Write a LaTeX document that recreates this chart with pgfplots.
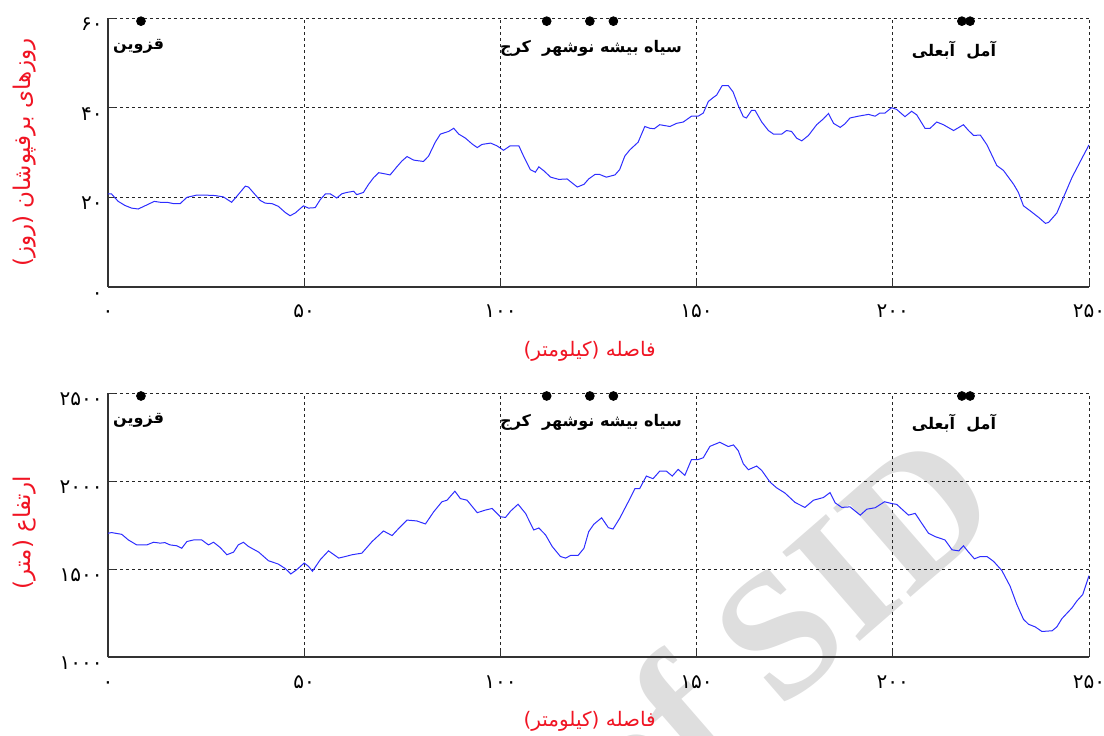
\documentclass[border=0pt]{standalone}
\usepackage{fontspec}
\setmainfont{DejaVu Sans}
\newfontfamily\fa[Script=Arabic]{DejaVu Sans}
\newfontfamily\wm{Liberation Serif}
\TeXXeTstate=1
\usepackage{pgfplots}
\usepackage{pgfplotstable}
\pgfplotsset{compat=1.18}
\definecolor{curve}{RGB}{45,45,255}
\definecolor{lab}{RGB}{240,20,35}

\pgfplotstableread{
x y
0 20.75
0.9 20.75
2.6 19.1
4.3 18.2
6.0 17.6
7.7 17.4
9.4 18.1
11.8 19.1
13.3 18.9
15.0 18.9
16.7 18.6
18.4 18.6
20.1 20.0
22.6 20.5
24.7 20.5
27.3 20.4
29.4 20.1
31.5 18.9
32.8 20.2
35.0 22.5
35.8 22.3
37.1 21.0
38.8 19.3
40.1 18.7
41.8 18.6
43.4 18.0
45.2 16.6
46.4 15.9
47.7 16.5
49.8 18.1
51.1 17.6
52.8 17.7
54.1 19.5
55.4 20.75
56.6 20.8
58.3 19.85
59.6 20.8
60.9 21.1
62.6 21.35
63.4 20.6
65.1 21.1
66.4 22.9
67.7 24.4
69.0 25.5
70.2 25.3
71.9 25.0
73.6 26.8
74.9 28.1
76.2 29.1
77.9 28.3
80.4 28.0
81.7 29.2
83.4 32.3
84.7 34.1
86.8 34.7
88.1 35.4
89.4 34.1
91.1 33.2
92.8 31.9
94.1 31.1
95.3 31.8
97.5 32.1
99.1 31.5
100.8 30.5
102.5 31.5
104.7 31.5
105.9 29.2
107.6 26.2
108.9 25.6
109.8 26.8
111.1 25.9
112.8 24.5
114.9 24.0
117.0 24.1
118.3 23.2
119.6 22.3
121.3 22.9
122.5 24.1
124.1 25.1
125.3 25.1
127.0 24.5
129.2 25.0
130.4 26.2
131.7 29.2
133.0 30.6
135.1 32.3
136.8 35.8
138.1 35.4
139.2 35.3
140.6 36.2
143.2 35.8
144.9 36.5
146.6 36.8
148.7 38.1
150.4 38.1
151.7 38.8
153.0 41.4
154.3 42.3
155.1 42.8
156.5 44.9
158.1 44.9
159.3 43.5
160.6 40.5
161.9 38.0
162.7 37.7
164.0 39.4
164.9 39.4
166.6 36.8
168.3 34.9
169.6 34.1
171.7 34.1
172.9 34.9
174.2 34.7
175.5 33.2
176.8 32.6
178.5 33.8
180.6 36.2
182.3 37.5
183.6 38.7
184.9 36.5
186.6 35.6
187.8 36.4
189.1 37.7
191.2 38.1
193.8 38.5
195.5 38.1
196.7 38.8
198.0 38.8
199.7 40.0
201.0 39.6
203.1 38.0
204.8 39.2
206.1 38.4
208.2 35.4
209.5 35.4
211.2 36.8
212.9 36.2
215.5 34.9
218.0 36.2
219.3 34.9
220.6 33.8
222.3 33.9
224.0 31.7
226.5 27.1
228.2 26.0
230.8 22.9
232.0 21.1
233.3 18.1
235.0 17.0
237.2 15.5
238.9 14.2
239.7 14.4
241.8 16.5
243.5 20.0
245.7 24.5
248.2 28.7
250.0 31.7
}\snowtable

\pgfplotstableread{
x y
0 1703
0.9 1707
3.5 1697
5.2 1665
7.3 1637
9.9 1637
11.6 1652
13.3 1647
14.5 1650
15.8 1637
17.5 1632
18.8 1618
20.1 1656
21.8 1665
23.9 1665
25.6 1637
26.9 1652
28.6 1622
30.3 1581
32.0 1596
33.2 1637
34.5 1652
35.8 1628
38.4 1596
40.9 1547
43.4 1528
45.2 1502
46.6 1472
48.1 1496
50.0 1534
51.1 1515
52.1 1487
54.1 1553
56.2 1603
58.8 1562
60.5 1571
62.2 1581
64.7 1590
67.3 1656
70.2 1716
72.4 1690
74.1 1731
76.2 1778
78.7 1773
80.9 1756
83.0 1825
85.1 1882
86.4 1891
88.4 1942
89.8 1900
91.5 1891
94.1 1820
96.2 1835
97.9 1844
100.0 1797
101.3 1793
102.6 1829
104.5 1868
106.4 1816
108.5 1722
109.8 1733
111.5 1694
113.2 1628
115.3 1571
116.6 1562
117.9 1577
119.8 1577
121.3 1618
122.5 1712
123.8 1754
125.8 1791
127.5 1735
128.7 1727
130.4 1788
132.6 1882
134.3 1957
135.5 1957
137.2 2028
138.9 2013
140.6 2056
142.3 2056
143.8 2028
145.3 2066
147.0 2032
148.7 2122
150.4 2122
151.7 2132
153.4 2197
155.9 2220
158.1 2196
159.4 2205
160.6 2173
161.9 2098
163.2 2064
165.3 2085
166.6 2060
168.7 1994
170.4 1961
172.5 1932
175.1 1878
177.6 1850
179.8 1891
182.3 1906
184.0 1934
185.3 1876
187.0 1850
189.1 1853
191.7 1806
193.4 1840
195.5 1848
197.9 1882
199.7 1872
201.0 1867
204.0 1806
205.7 1816
207.4 1759
209.1 1703
210.8 1684
213.3 1665
215.1 1609
216.8 1603
218.0 1632
219.3 1596
220.8 1558
222.3 1571
224.0 1571
225.7 1543
227.8 1491
229.9 1402
231.6 1299
233.3 1214
234.6 1186
236.3 1171
238.0 1145
240.6 1149
241.8 1171
243.1 1218
245.7 1280
246.9 1318
248.4 1355
250.0 1462
}\elevtable

\tikzset{citylab/.style={font=\fa\bfseries\fontsize{8}{10}\selectfont, text=black, anchor=center}}

\pgfplotsset{myax/.style={
  scale only axis, width=490.5pt,
  xmin=0, xmax=250, xtick={0,50,100,150,200,250},
  xticklabels={۰,۵۰,۱۰۰,۱۵۰,۲۰۰,۲۵۰},
  axis x line*=bottom, axis y line*=left,
  grid=major,
  major grid style={black!85, dash pattern=on 1.5pt off 1.5pt, line width=0.5pt},
  axis line style={black!80, line width=0.8pt, -},
  tick align=inside, major tick length=3.5pt,
  tick style={black!80, line width=0.5pt},
  ticklabel style={font=\fa\fontsize{10}{10}\selectfont, text height=7.3pt, text depth=0pt, inner sep=0pt},
  xticklabel style={anchor=north, yshift=-8pt},
  yticklabel style={anchor=east, xshift=-2.5pt, yshift=-2.6pt},
  clip=false,
  xlabel={\fa\beginR فاصله (کیلومتر)\endR},
  xlabel style={text=lab, font=\fa\fontsize{10}{12}\selectfont, at={(axis description cs:0.491,0)}, anchor=center, yshift=-32pt},
  ylabel style={text=lab, font=\fa\fontsize{11.5}{13}\selectfont, at={(axis description cs:-0.0846,0.5)}, anchor=center},
}}

\begin{document}
\begin{tikzpicture}[x=1pt,y=1pt]
\useasboundingbox (0,0) rectangle (552,367.5);
\node[rotate=41, text=black!13, font=\wm\bfseries\fontsize{90}{90}\selectfont, anchor=east, inner sep=0pt] at (483,134) {of SID};

\begin{axis}[myax, at={(54pt,224pt)}, anchor=south west, height=134.5pt,
  ymin=0, ymax=60, ytick={0,20,40,60}, yticklabels={۰,۲۰,۴۰,۶۰},
  ylabel={\fa\beginR روزهای برفپوشان (روز)\endR}]
\addplot[curve, line width=0.5pt, no marks] table[x=x,y=y] {\snowtable};
\addplot[only marks, mark=*, mark size=2.2pt, black] coordinates {(8.4,59.3) (111.8,59.3) (122.8,59.3) (128.8,59.3) (217.6,59.3) (219.7,59.3)};
\node[citylab] at (axis cs:7.8,53.6) {\fa\beginR قزوین\endR};
\node[citylab] at (axis cs:123.1,53.3) {\fa\beginR سیاه بیشه نوشهر\ \ کرج\endR};
\node[citylab] at (axis cs:215.6,52.9) {\fa\beginR آمل\ \ آبعلی\endR};
\end{axis}

\begin{axis}[myax, at={(54pt,39pt)}, anchor=south west, height=132pt,
  ymin=1000, ymax=2500, ytick={1000,1500,2000,2500}, yticklabels={۱۰۰۰,۱۵۰۰,۲۰۰۰,۲۵۰۰},
  ylabel={\fa\beginR ارتفاع (متر)\endR},
  ylabel style={at={(axis description cs:-0.0846,0.47)}}]
\addplot[curve, line width=0.5pt, no marks] table[x=x,y=y] {\elevtable};
\addplot[only marks, mark=*, mark size=2.2pt, black] coordinates {(8.4,2483) (111.8,2483) (122.8,2483) (128.8,2483) (217.6,2483) (219.7,2483)};
\node[citylab] at (axis cs:7.8,2347) {\fa\beginR قزوین\endR};
\node[citylab] at (axis cs:123.1,2335) {\fa\beginR سیاه بیشه نوشهر\ \ کرج\endR};
\node[citylab] at (axis cs:215.6,2330) {\fa\beginR آمل\ \ آبعلی\endR};
\end{axis}
\end{tikzpicture}
\end{document}
